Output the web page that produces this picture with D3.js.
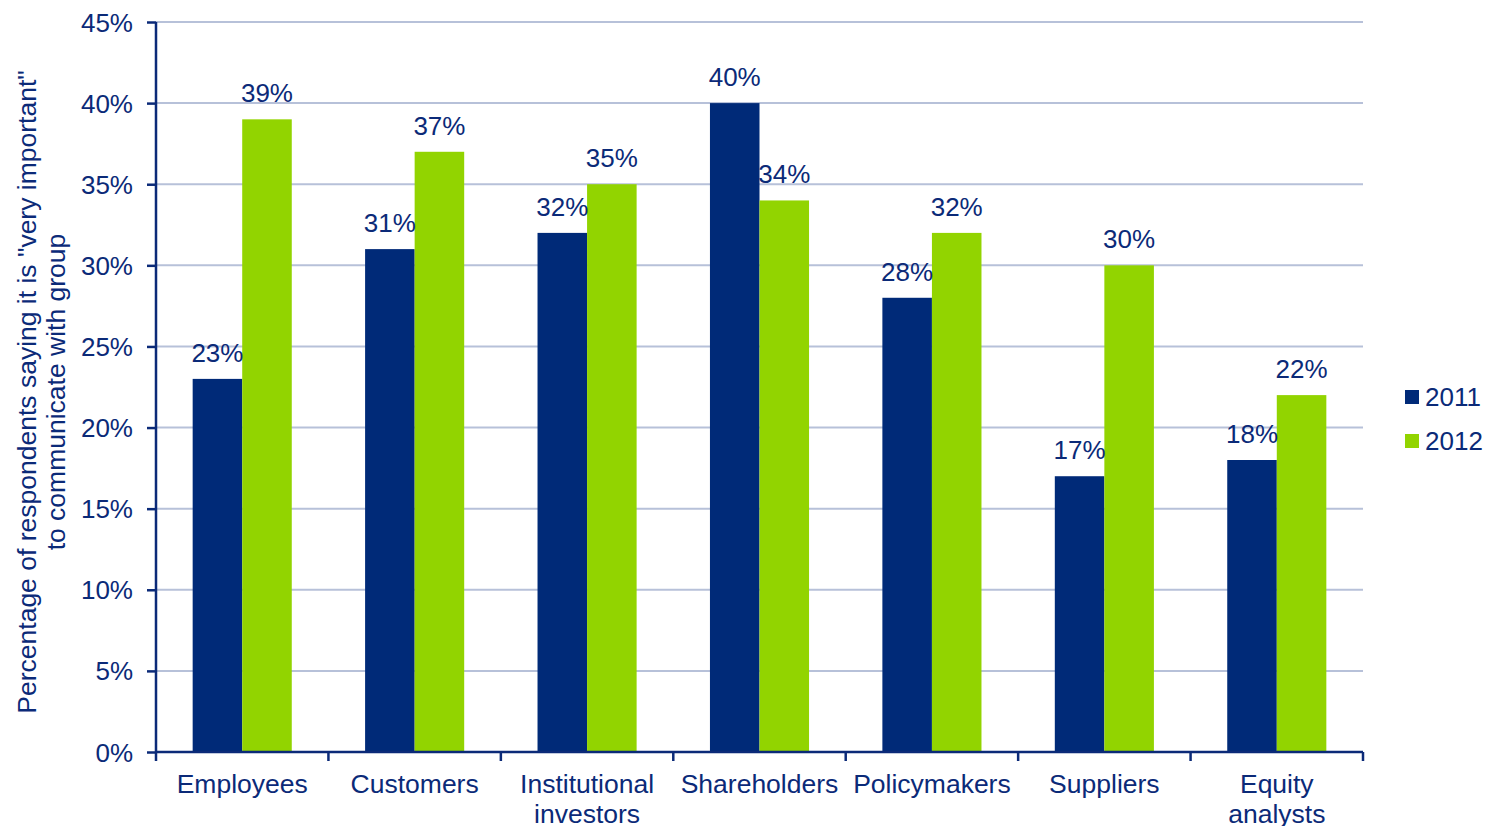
<!DOCTYPE html>
<html>
<head>
<meta charset="utf-8">
<script src="https://cdn.jsdelivr.net/npm/d3@7"></script>
<style>
  html, body { margin: 0; padding: 0; background: #ffffff; }
  svg text { font-family: "Liberation Sans", Arial, sans-serif; fill: #0b2a78; }
</style>
</head>
<body>
<svg id="chart" width="1491" height="826"></svg>
<script>
// Stakeholder groups (two-line labels split on "\n")
const categories = ["Employees", "Customers", "Institutional\ninvestors", "Shareholders", "Policymakers", "Suppliers", "Equity\nanalysts"];
const series = ["2011", "2012"];
const values2011 = [23, 31, 32, 40, 28, 17, 18];
const values2012 = [39, 37, 35, 34, 32, 30, 22];
const yTicks = [0, 5, 10, 15, 20, 25, 30, 35, 40, 45];

const colors = { "2011": "#002a78", "2012": "#92d400" };
const textColor = "#0b2a78";

const rows = categories.map((c, i) => ({ category: c, "2011": values2011[i], "2012": values2012[i] }));

const svg = d3.select("#chart");
const plotLeft = 156, plotRight = 1363, plotTop = 22, plotBottom = 752;

const x = d3.scaleBand().domain(categories).range([plotLeft, plotRight]).paddingInner(0).paddingOuter(0);
const x1 = d3.scaleBand().domain(series).range([0, x.bandwidth()]).paddingInner(0).paddingOuter(0.74);
const y = d3.scaleLinear().domain([0, 45]).range([plotBottom, plotTop]);

// horizontal gridlines
svg.append("g").selectAll("line").data(yTicks.filter(d => d > 0)).join("line")
  .attr("x1", plotLeft).attr("x2", plotRight)
  .attr("y1", d => y(d)).attr("y2", d => y(d))
  .attr("stroke", "#b7c1d9").attr("stroke-width", 2);

// bars
const groups = svg.append("g").selectAll("g").data(rows).join("g")
  .attr("transform", d => `translate(${x(d.category)},0)`);

groups.selectAll("rect").data(d => series.map(s => ({ s, v: d[s] }))).join("rect")
  .attr("x", d => x1(d.s))
  .attr("width", x1.bandwidth())
  .attr("y", d => y(d.v))
  .attr("height", d => y(0) - y(d.v))
  .attr("fill", d => colors[d.s]);

// value labels
groups.selectAll("text.val").data(d => series.map(s => ({ s, v: d[s] }))).join("text")
  .attr("class", "val")
  .attr("x", d => x1(d.s) + x1.bandwidth() / 2)
  .attr("y", d => y(d.v) - 17)
  .attr("text-anchor", "middle")
  .style("font-size", "26px")
  .text(d => d.v + "%");

// y axis
const yAxis = d3.axisLeft(y).tickValues(yTicks).tickFormat(d => d + "%").tickSize(9).tickPadding(14);
const gy = svg.append("g").attr("transform", `translate(${plotLeft},0)`).call(yAxis);
gy.select(".domain").attr("stroke", textColor).attr("stroke-width", 2.5).attr("d", `M0,${plotTop}V${plotBottom}`);
gy.selectAll(".tick line").attr("stroke", textColor).attr("stroke-width", 2.5);
gy.selectAll(".tick text").style("font-size", "26px").attr("fill", textColor)
  .style("font-family", "'Liberation Sans', Arial, sans-serif").attr("dy", "0.35em");

// x axis: ticks at band boundaries
const gx = svg.append("g");
gx.append("line").attr("x1", plotLeft).attr("x2", plotRight).attr("y1", plotBottom).attr("y2", plotBottom)
  .attr("stroke", textColor).attr("stroke-width", 2.5);
const boundaries = categories.map(c => x(c)).concat([plotRight]);
gx.selectAll("line.tk").data(boundaries).join("line").attr("class", "tk")
  .attr("x1", d => d).attr("x2", d => d).attr("y1", plotBottom).attr("y2", plotBottom + 9)
  .attr("stroke", textColor).attr("stroke-width", 2.5);

const xl = gx.selectAll("text.cat").data(categories).join("text").attr("class", "cat")
  .attr("text-anchor", "middle")
  .attr("x", d => x(d) + x.bandwidth() / 2)
  .attr("y", 793)
  .style("font-size", "26.5px");
xl.each(function(d) {
  const t = d3.select(this);
  d.split("\n").forEach((line, i) => {
    t.append("tspan").attr("x", x(d) + x.bandwidth() / 2).attr("dy", i === 0 ? 0 : 30).text(line);
  });
});

// y axis title (two lines, rotated)
const title = svg.append("text")
  .attr("transform", "translate(0,392) rotate(-90)")
  .attr("text-anchor", "middle")
  .style("font-size", "26.5px");
title.append("tspan").attr("x", 0).attr("y", 36).text('Percentage of respondents saying it is "very important"');
title.append("tspan").attr("x", 0).attr("y", 65).text("to communicate with group");

// legend
const legend = svg.append("g").selectAll("g").data(series).join("g")
  .attr("transform", (d, i) => `translate(1405,${397 + i * 44})`);
legend.append("rect").attr("x", 0).attr("y", -7).attr("width", 14).attr("height", 14)
  .attr("fill", d => colors[d]);
legend.append("text").attr("x", 20).attr("y", 0).attr("dy", "0.35em")
  .style("font-size", "26px").text(d => d);
</script>
</body>
</html>
